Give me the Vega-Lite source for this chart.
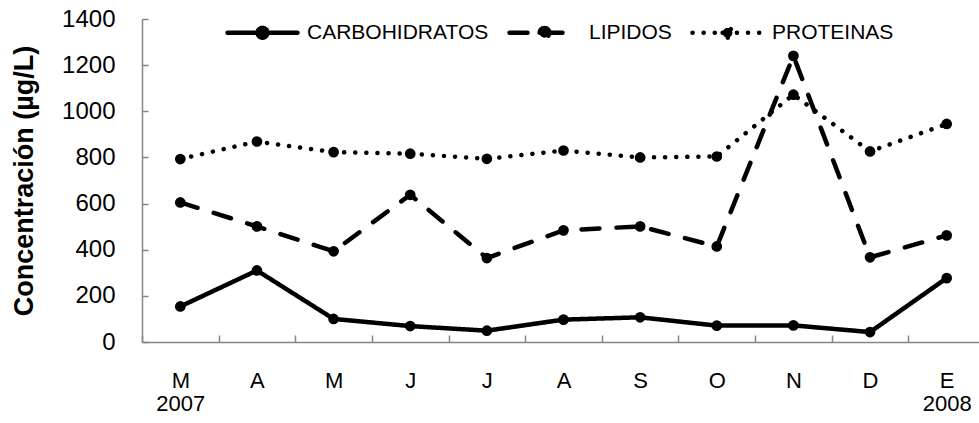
{
  "$schema": "https://vega.github.io/schema/vega-lite/v6.json",
  "width": 837,
  "height": 323,
  "autosize": {"type": "none"},
  "padding": {"left": 142, "top": 19, "right": 0, "bottom": 81},
  "background": "white",
  "config": {
    "view": {"stroke": null},
    "font": "Liberation Sans"
  },
  "data": {
    "values": [
      {"mes": "Mar", "serie": "CARBOHIDRATOS", "valor": 154},
      {"mes": "Abr", "serie": "CARBOHIDRATOS", "valor": 310},
      {"mes": "May", "serie": "CARBOHIDRATOS", "valor": 100},
      {"mes": "Jun", "serie": "CARBOHIDRATOS", "valor": 69},
      {"mes": "Jul", "serie": "CARBOHIDRATOS", "valor": 49},
      {"mes": "Ago", "serie": "CARBOHIDRATOS", "valor": 97},
      {"mes": "Sep", "serie": "CARBOHIDRATOS", "valor": 107},
      {"mes": "Oct", "serie": "CARBOHIDRATOS", "valor": 71},
      {"mes": "Nov", "serie": "CARBOHIDRATOS", "valor": 72},
      {"mes": "Dic", "serie": "CARBOHIDRATOS", "valor": 43},
      {"mes": "Ene", "serie": "CARBOHIDRATOS", "valor": 277},
      {"mes": "Mar", "serie": "LIPIDOS", "valor": 605},
      {"mes": "Abr", "serie": "LIPIDOS", "valor": 501},
      {"mes": "May", "serie": "LIPIDOS", "valor": 393},
      {"mes": "Jun", "serie": "LIPIDOS", "valor": 638},
      {"mes": "Jul", "serie": "LIPIDOS", "valor": 364},
      {"mes": "Ago", "serie": "LIPIDOS", "valor": 484},
      {"mes": "Sep", "serie": "LIPIDOS", "valor": 501},
      {"mes": "Oct", "serie": "LIPIDOS", "valor": 414},
      {"mes": "Nov", "serie": "LIPIDOS", "valor": 1240},
      {"mes": "Dic", "serie": "LIPIDOS", "valor": 367},
      {"mes": "Ene", "serie": "LIPIDOS", "valor": 462},
      {"mes": "Mar", "serie": "PROTEINAS", "valor": 793},
      {"mes": "Abr", "serie": "PROTEINAS", "valor": 869},
      {"mes": "May", "serie": "PROTEINAS", "valor": 823},
      {"mes": "Jun", "serie": "PROTEINAS", "valor": 816},
      {"mes": "Jul", "serie": "PROTEINAS", "valor": 794},
      {"mes": "Ago", "serie": "PROTEINAS", "valor": 830},
      {"mes": "Sep", "serie": "PROTEINAS", "valor": 800},
      {"mes": "Oct", "serie": "PROTEINAS", "valor": 804},
      {"mes": "Nov", "serie": "PROTEINAS", "valor": 1072},
      {"mes": "Dic", "serie": "PROTEINAS", "valor": 826},
      {"mes": "Ene", "serie": "PROTEINAS", "valor": 945}
    ]
  },
  "encoding": {
    "x": {
      "field": "mes",
      "type": "nominal",
      "sort": ["Mar", "Abr", "May", "Jun", "Jul", "Ago", "Sep", "Oct", "Nov", "Dic", "Ene"],
      "scale": {"range": [0, 843], "paddingInner": 0, "paddingOuter": 0},
      "axis": {
        "title": null,
        "labelAngle": 0,
        "tickBand": "extent",
        "tickSize": -7,
        "tickColor": "#868686",
        "tickWidth": 1.5,
        "domainColor": "#868686",
        "domainWidth": 1.5,
        "labelFont": "Liberation Sans",
        "labelFontSize": 22,
        "labelColor": "black",
        "labelLineHeight": 23,
        "labelPadding": 35,
        "labelExpr": "!datum.value ? '' : datum.value == 'Mar' ? ['M','2007'] : datum.value == 'Ene' ? ['E','2008'] : upper(substring(datum.value,0,1))"
      }
    },
    "y": {
      "field": "valor",
      "type": "quantitative",
      "scale": {"domain": [0, 1400], "nice": false},
      "axis": {
        "values": [0, 200, 400, 600, 800, 1000, 1200, 1400],
        "format": "d",
        "grid": false,
        "tickSize": -6,
        "tickColor": "#868686",
        "tickWidth": 1.5,
        "domainColor": "#868686",
        "domainWidth": 1.5,
        "labelFont": "Liberation Sans",
        "labelFontSize": 24,
        "labelColor": "black",
        "labelPadding": 33,
        "title": "Concentración (µg/L)",
        "titleFont": "Liberation Sans",
        "titleFontSize": 27,
        "titleFontWeight": "bold",
        "titleColor": "black",
        "titlePadding": 23
      }
    }
  },
  "layer": [
    {
      "mark": {"type": "line", "color": "black", "strokeWidth": 4.5, "strokeCap": "round", "strokeJoin": "round"},
      "encoding": {
        "detail": {"field": "serie"},
        "strokeDash": {
          "field": "serie",
          "type": "nominal",
          "scale": {
            "domain": ["CARBOHIDRATOS", "LIPIDOS", "PROTEINAS"],
            "range": [[1, 0], [18, 17], [0.1, 11]]
          },
          "legend": {
            "orient": "none",
            "legendX": 83,
            "legendY": -24,
            "direction": "horizontal",
            "title": null,
            "padding": 0,
            "symbolType": "M-1,0H1M-0.14,0A0.14,0.14,0,1,1,0.14,0A0.14,0.14,0,1,1,-0.14,0Z",
            "symbolSize": 4900,
            "symbolStrokeWidth": 4.5,
            "symbolStrokeColor": "black",
            "symbolFillColor": "black",
            "labelFont": "Liberation Sans",
            "labelFontSize": 21,
            "labelColor": "black",
            "labelLimit": 400,
            "labelOffset": 7,
            "columnPadding": 11,
            "encode": {
              "symbols": {
                "update": {
                  "strokeCap": {"value": "round"},
                  "fill": {"value": "black"},
                  "fillOpacity": {"value": 1},
                  "stroke": {"value": "black"},
                  "strokeWidth": {"value": 4.5},
                  "strokeOpacity": {"value": 1},
                  "opacity": {"value": 1}
                }
              }
            }
          }
        }
      }
    },
    {
      "mark": {"type": "point", "filled": true, "shape": "circle", "color": "black", "size": 115, "opacity": 1},
      "encoding": {"detail": {"field": "serie"}}
    }
  ]
}
